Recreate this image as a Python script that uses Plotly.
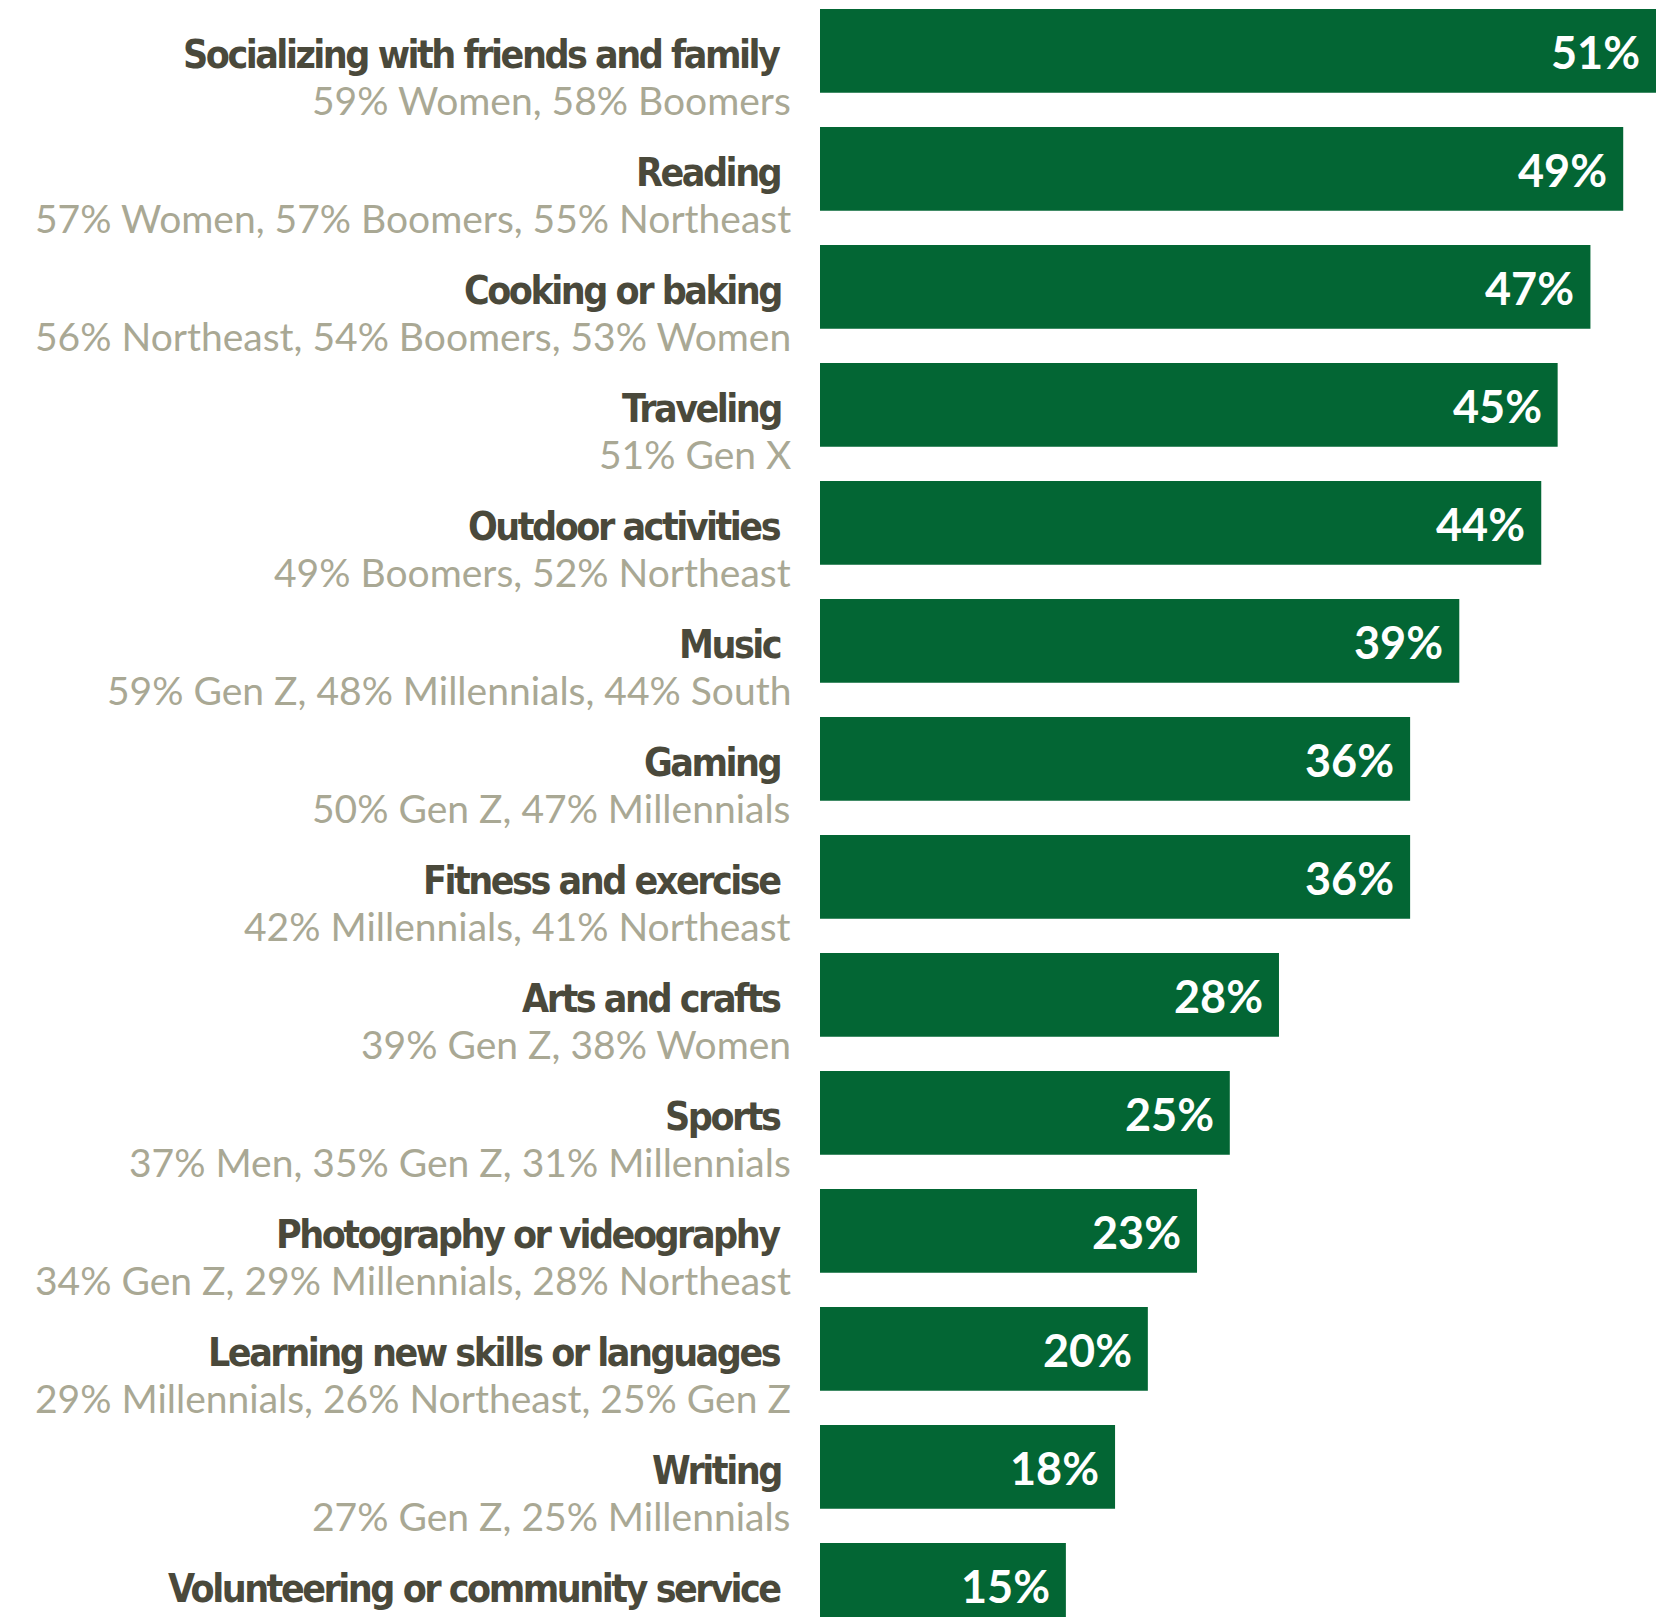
import plotly.graph_objects as go

# Survey results: share of respondents naming each activity
activities = [
    "Socializing with friends and family",
    "Reading",
    "Cooking or baking",
    "Traveling",
    "Outdoor activities",
    "Music",
    "Gaming",
    "Fitness and exercise",
    "Arts and crafts",
    "Sports",
    "Photography or videography",
    "Learning new skills or languages",
    "Writing",
    "Volunteering or community service",
]
shares = [51, 49, 47, 45, 44, 39, 36, 36, 28, 25, 23, 20, 18, 15]
top_groups = [
    "59% Women, 58% Boomers",
    "57% Women, 57% Boomers, 55% Northeast",
    "56% Northeast, 54% Boomers, 53% Women",
    "51% Gen X",
    "49% Boomers, 52% Northeast",
    "59% Gen Z, 48% Millennials, 44% South",
    "50% Gen Z, 47% Millennials",
    "42% Millennials, 41% Northeast",
    "39% Gen Z, 38% Women",
    "37% Men, 35% Gen Z, 31% Millennials",
    "34% Gen Z, 29% Millennials, 28% Northeast",
    "29% Millennials, 26% Northeast, 25% Gen Z",
    "27% Gen Z, 25% Millennials",
    "",
]

W, H = 1656, 1617
LEFT = 820
plot_w = W - LEFT

GREEN = "#036634"
DARK = "#4a493b"
MUTED = "#a9a894"

fig = go.Figure(
    go.Bar(
        x=shares,
        y=activities,
        orientation="h",
        marker=dict(color=GREEN, line=dict(width=0)),
        hoverinfo="skip",
    )
)

annotations = []
for name, val, grp in zip(activities, shares, top_groups):
    # activity name, right-aligned next to the bar (tightly tracked condensed bold)
    annotations.append(dict(
        xref="paper", yref="y",
        x=(783 - LEFT) / plot_w, y=name,
        xanchor="right", yanchor="middle",
        yshift=-4,
        text=f'<span style="letter-spacing:-2.5px">{name}</span>',
        showarrow=False,
        font=dict(family="DejaVu Sans Condensed, Liberation Sans Narrow, Roboto",
                  size=39, color=DARK, weight="bold"),
    ))
    if grp:
        annotations.append(dict(
            xref="paper", yref="y",
            x=(793 - LEFT) / plot_w, y=name,
            xanchor="right", yanchor="middle",
            yshift=-49,
            text=grp,
            showarrow=False,
            font=dict(family="Lato", size=39, color=MUTED),
        ))
    # value label inside the end of the bar
    annotations.append(dict(
        xref="x", yref="y",
        x=val, y=name,
        xanchor="right", yanchor="middle",
        xshift=-14, yshift=-1,
        text=f"<b>{val}%</b>",
        showarrow=False,
        font=dict(family="Lato", size=45, color="white"),
    ))

fig.update_layout(
    width=W, height=H,
    margin=dict(l=LEFT, r=0, t=0, b=0, pad=0),
    paper_bgcolor="white",
    plot_bgcolor="white",
    bargap=0.29,
    showlegend=False,
    xaxis=dict(range=[0, 51], visible=False, fixedrange=True),
    yaxis=dict(
        type="category",
        categoryorder="array",
        categoryarray=activities,
        range=[13.273, -0.4305],
        visible=False,
        fixedrange=True,
    ),
    annotations=annotations,
)

fig.write_html("out.html", config={"displayModeBar": False})
